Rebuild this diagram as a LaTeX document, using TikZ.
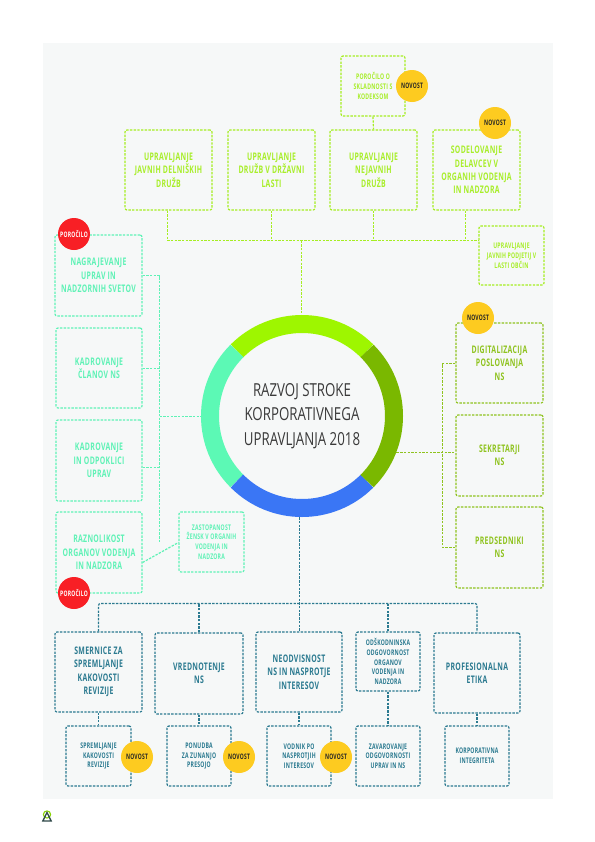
\documentclass[tikz,border=0pt]{standalone}
\usepackage{fontspec}
\setmainfont{Open Sans}
\newfontfamily\cond[FakeStretch=0.66,LetterSpace=3]{Open Sans}
\newfontfamily\coretext[FakeStretch=0.74]{Open Sans}
\definecolor{pagebg}{HTML}{F6F8F8}
\definecolor{cA}{HTML}{A6EE22}
\definecolor{cAt}{HTML}{A8EE2A}
\definecolor{cB}{HTML}{8FC31F}
\definecolor{cC}{HTML}{5FF2B6}
\definecolor{cD}{HTML}{2B7A90}
\definecolor{rA}{HTML}{9EF600}
\definecolor{rB}{HTML}{7AB800}
\definecolor{rC}{HTML}{3A76F5}
\definecolor{rD}{HTML}{5CF9B5}
\definecolor{ink}{HTML}{3A3A3A}
\definecolor{gold}{HTML}{FDCB20}
\definecolor{redb}{HTML}{F81F25}
\tikzset{
 dash line/.style={line width=1.2bp,dash pattern=on 2.4bp off 1.3bp},
 boxbase/.style={dash line,rounded corners=2bp,inner sep=0pt,align=center,fill=pagebg},
 big/.style={boxbase,font=\cond\bfseries\fontsize{10.5}{13.5}\selectfont},
 small/.style={boxbase,font=\cond\bfseries\fontsize{7.8}{9.8}\selectfont},
 size/.style n args={2}{minimum width=#1 bp,minimum height=#2 bp},
 badge/.style={circle,inner sep=0pt,minimum size=32bp,font=\cond\bfseries\fontsize{7.6}{8}\selectfont},
 novost/.style={badge,fill=gold,text=black!85},
 porocilo/.style={badge,fill=redb,text=white},
}
\begin{document}
\begin{tikzpicture}[x=1bp,y=-1bp]
\useasboundingbox (0,0) rectangle (595,842);
\fill[pagebg] (43,43) rectangle (553,799);
% centre
\node[circle,minimum size=202bp,inner sep=0pt,align=center,text=ink,font=\coretext\fontsize{18}{24.5}\selectfont] (core) at (302,416) {RAZVOJ STROKE\\KORPORATIVNEGA\\UPRAVLJANJA 2018};
% junctions
\coordinate (jt) at (301.5,240.5);
\coordinate (jl) at (159.5,416.5);
\coordinate (jr) at (442.5,452.5);
\coordinate (jb) at (299.5,603.5);
% top group
\begin{scope}[every node/.append style={draw=cA,text=cAt}]
\node[big,size={87}{80}] (t1) at (168.5,170) {UPRAVLJANJE\\JAVNIH DELNIŠKIH\\DRUŽB};
\node[big,size={87}{80}] (t2) at (271.5,170) {UPRAVLJANJE\\DRUŽB V DRŽAVNI\\LASTI};
\node[big,size={87}{80}] (t3) at (373.5,170) {UPRAVLJANJE\\NEJAVNIH\\DRUŽB};
\node[big,size={87}{80}] (t4) at (476.5,170) {SODELOVANJE\\DELAVCEV V\\ORGANIH VODENJA\\IN NADZORA};
\node[small,size={64}{60}] (tr) at (373,86) {POROČILO O\\SKLADNOSTI S\\KODEKSOM};
\node[small,size={65}{59}] (ts) at (511.5,255.5) {UPRAVLJANJE\\JAVNIH PODJETIJ V\\LASTI OBČIN};
\end{scope}
\begin{scope}[cA,dash line]
\draw (tr.south) -- (t3.north);
\draw ([xshift=-1bp]t1.south) |- (ts.west |- jt);
\draw (t2.south) -- (t2.south |- jt);
\draw (t3.south) -- (t3.south |- jt);
\draw ([xshift=-11bp]t4.south) -- ([xshift=-11bp]t4.south |- jt);
\draw (jt) -- (core.north -| jt);
\end{scope}
% left group
\begin{scope}[every node/.append style={draw=cC,text=cC}]
\node[big,size={87}{81}] (l1) at (98.5,275.5) {NAGRAJEVANJE\\UPRAV IN\\NADZORNIH SVETOV};
\node[big,size={86}{80}] (l2) at (99,368) {KADROVANJE\\ČLANOV NS};
\node[big,size={86}{81}] (l3) at (99,460.5) {KADROVANJE\\IN ODPOKLICI\\UPRAV};
\node[big,size={86}{81}] (l4) at (99,552.5) {RAZNOLIKOST\\ORGANOV VODENJA\\IN NADZORA};
\node[small,size={65}{60}] (ls) at (211.5,542) {ZASTOPANOST\\ŽENSK V ORGANIH\\VODENJA IN\\NADZORA};
\end{scope}
\begin{scope}[cC,dash line]
\coordinate (jl4) at (159.5,542.5);
\draw (l1.east) -| (jl4);
\draw ([yshift=-0.5bp]l2.east) -- ([yshift=-0.5bp]l2.east -| jl);
\draw ([yshift=-7bp]l3.east) -- ([yshift=-7bp]l3.east -| jl);
\draw ([yshift=-10bp]l4.east) -- ([yshift=-0.5bp]ls.west);
\draw (jl) -- (core.west |- jl);
\end{scope}
% right group
\begin{scope}[every node/.append style={draw=cB,text=cB}]
\node[big,size={87}{80}] (r1) at (499.5,363) {DIGITALIZACIJA\\POSLOVANJA\\NS};
\node[big,size={87}{81}] (r2) at (499.5,455.5) {SEKRETARJI\\NS};
\node[big,size={87}{81}] (r3) at (499.5,547.5) {PREDSEDNIKI\\NS};
\end{scope}
\begin{scope}[cB,dash line]
\draw ([yshift=-0.5bp]r1.west) -| (r3.west -| jr) -- (r3.west);
\draw (core.-21 |- jr) -- (jr -| r2.west);
\end{scope}
% bottom group
\begin{scope}[every node/.append style={draw=cD,text=cD}]
\node[big,size={87}{80}] (b1) at (98.5,672) {SMERNICE ZA\\SPREMLJANJE\\KAKOVOSTI\\REVIZIJE};
\node[big,size={88}{81}] (b2) at (199,673.5) {VREDNOTENJE\\NS};
\node[big,size={86}{80}] (b3) at (299,672) {NEODVISNOST\\NS IN NASPROTJE\\INTERESOV};
\node[small,size={64}{59}] (b4) at (388,661.5) {ODŠKODNINSKA\\ODGOVORNOST\\ORGANOV\\VODENJA IN\\NADZORA};
\node[big,size={86}{80}] (b5) at (477,673) {PROFESIONALNA\\ETIKA};
\node[small,size={65}{60}] (c1) at (98.5,756) {SPREMLJANJE\\KAKOVOSTI\\REVIZIJE};
\node[small,size={64}{60}] (c2) at (199,756) {PONUDBA\\ZA ZUNANJO\\PRESOJO};
\node[small,size={64}{60}] (c3) at (299,756) {VODNIK PO\\NASPROTJIH\\INTERESOV};
\node[small,size={64}{60}] (c4) at (388,756) {ZAVAROVANJE\\ODGOVORNOSTI\\UPRAV IN NS};
\node[small,size={64}{60}] (c5) at (477,756) {KORPORATIVNA\\INTEGRITETA};
\end{scope}
\begin{scope}[cD,dash line]
\draw[rounded corners=2bp] (b1.north) |- (jb) -| (b5.north);
\draw (b2.north) -- (b2.north |- jb);
\draw (b4.north) -- (b4.north |- jb);
\draw (core.south -| jb) -- (b3.north -| jb);
\foreach \a/\b in {b1/c1,b2/c2,b3/c3,b4/c4,b5/c5}{\draw (\a.south) -- (\b.north);}
\end{scope}
% ring
\draw[line width=18bp,rA] ([shift={(45:92bp)}]core.center) arc[start angle=45,end angle=135,radius=92bp];
\draw[line width=18bp,rD] ([shift={(135:92bp)}]core.center) arc[start angle=135,end angle=225,radius=92bp];
\draw[line width=18bp,rC] ([shift={(225:92bp)}]core.center) arc[start angle=225,end angle=315,radius=92bp];
\draw[line width=18bp,rB] ([shift={(315:92bp)}]core.center) arc[start angle=315,end angle=405,radius=92bp];
% badges
\node[novost] (n1) at (412,86) {NOVOST};
\node[novost] (n2) at (495,123) {NOVOST};
\node[novost] (n3) at (478,318) {NOVOST};
\node[novost] (n4) at (137,757) {NOVOST};
\node[novost] (n5) at (239,757) {NOVOST};
\node[novost] (n6) at (336,757) {NOVOST};
\node[porocilo] (p1) at (74,234) {POROČILO};
\node[porocilo] (p2) at (74,593) {POROČILO};
% logo
\draw[rA!85!black,line width=1.1bp] (47,814.5) circle[radius=3.6];
\draw[ink!80!teal,line width=1.3bp,line join=miter] (47,812.5) -- (51.2,821) -- (42.8,821) -- cycle;
\end{tikzpicture}
\end{document}
